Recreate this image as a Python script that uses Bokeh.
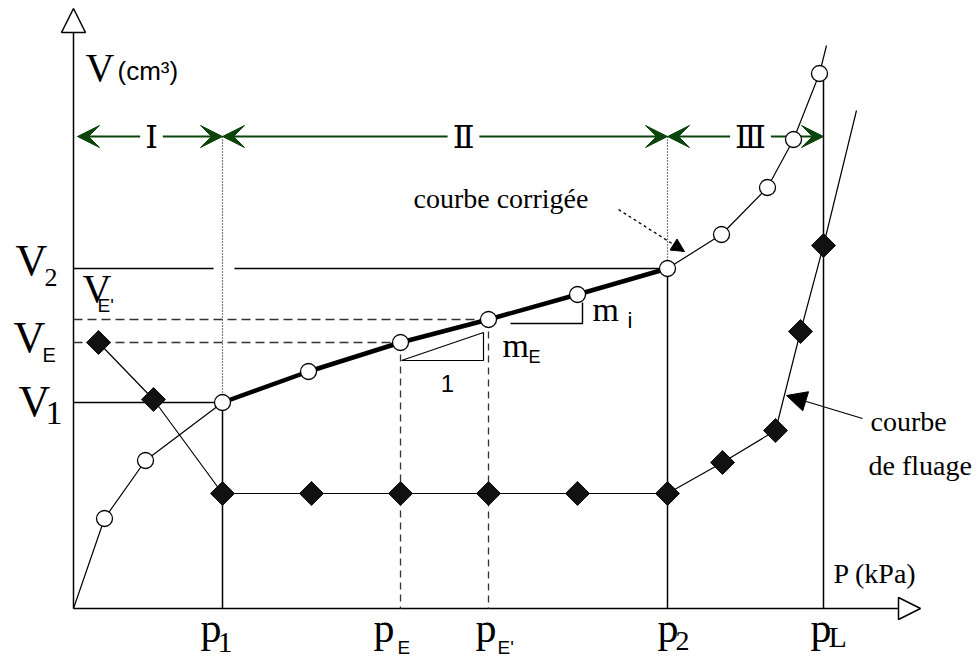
from bokeh.plotting import figure
from bokeh.models import Range1d, Arrow, NormalHead, VeeHead
from bokeh.core.properties import value
from bokeh.embed import file_html
from bokeh.resources import INLINE
import numpy as np

# Characteristic pressures (P axis, schematic kPa) and volumes (V axis, cm3)
p1, pE, pEp, p2, pL = 149, 327, 415, 594, 750
V1, VE, VEp, V2 = 206, 266, 289, 340
V_phase = 472  # level of the phase arrows I / II / III

# Corrected pressuremeter curve (open circles)
corr_P = [0, 31, 72, 149, 235, 327, 415, 504, 594, 648, 694, 720, 746, 753]
corr_V = [0, 90, 148, 206, 237, 266, 289, 314, 340, 374, 421, 469, 535, 563]

# Creep curve (filled diamonds)
creep_P = [25, 80, 149, 238, 327, 415, 504, 594, 649, 702, 727, 750, 783]
creep_V = [266, 209, 115, 115, 115, 115, 115, 115, 146, 178, 277, 363, 498]

# Slope triangles
mE_P = [328, 410, 410, 328]
mE_V = [248, 248, 276, 248]
mi_P = [437, 509, 509]
mi_V = [285, 285, 306]

SERIF = "Liberation Serif"
SANS = "Liberation Sans"
GREEN = "#0b450b"

p = figure(width=977, height=659,
           x_range=Range1d(-73, 904), y_range=Range1d(-51, 608),
           x_axis_type=None, y_axis_type=None,
           toolbar_location=None, output_backend="svg",
           min_border=0, outline_line_color=None,
           background_fill_color="white", border_fill_color="white")


def txt(x, y, s, size, font=SERIF, align="left", baseline="alphabetic", **kw):
    # lift alphabetic labels so the glyph baseline sits on y
    if baseline == "alphabetic":
        y = y + 0.37 * size
    p.text(x=[x], y=[y], text=[s], text_font=value(font),
           text_font_size=f"{size}px", text_align=align,
           text_baseline=baseline, text_color="black", **kw)


def arrow(x0, y0, x1, y1, start=None, end=None, **kw):
    p.add_layout(Arrow(start=start, end=end, x_start=x0, y_start=y0,
                       x_end=x1, y_end=y1, level="underlay", **kw))


# axes with open triangular heads
arrow(0, 0, 0, 600, end=NormalHead(size=24, fill_color="white", line_color="black", line_width=1.5),
      line_width=1.5)
arrow(0, 0, 847, 0, end=NormalHead(size=22, fill_color="white", line_color="black", line_width=1.5),
      line_width=1.5)

# phase arrows
def vee():
    return VeeHead(size=22, fill_color=GREEN, line_color=GREEN)

for a, b in [(4, p1), (p1, p2), (p2, pL)]:
    arrow(a, V_phase, b, V_phase, start=vee(), end=vee(), line_color=GREEN, line_width=2)

# reference lines
p.segment(x0=[p1, p2], y0=[V_phase, V_phase], x1=[p1, p2], y1=[V1, V2],
          line_color="black", line_width=1.2, line_dash="1 2")
p.segment(x0=[p1, p2, pL], y0=[V1, V2, 530], x1=[p1, p2, pL], y1=[0, 0, 0],
          line_color="black", line_width=1.5)
p.segment(x0=[0, p1 + 12, 0], y0=[V2, V2, V1], x1=[p1 - 9, p2, p1], y1=[V2, V2, V1],
          line_color="black", line_width=1.5)
p.segment(x0=[0, 0], y0=[VEp, VE], x1=[pEp, pE], y1=[VEp, VE],
          line_color="#333333", line_width=1.5, line_dash="9 5")
p.segment(x0=[pE, pEp], y0=[VE, VEp], x1=[pE, pEp], y1=[0, 0],
          line_color="#333333", line_width=1.3, line_dash="7 5")

# slope triangles
p.line(mE_P, mE_V, line_color="black", line_width=1.2)
p.line(mi_P, mi_V, line_color="black", line_width=1.4)

# curves
p.line(creep_P, creep_V, line_color="black", line_width=1.2)
p.line(corr_P, corr_V, line_color="black", line_width=1.2)
p.line(corr_P[3:9], corr_V[3:9], line_color="black", line_width=4.5)

p.scatter(creep_P[:12], creep_V[:12], marker="square", angle=np.pi / 4, size=17,
          fill_color="#111111", line_color="#111111")
p.scatter(corr_P[1:13], corr_V[1:13], marker="circle", size=16,
          fill_color="white", line_color="black", line_width=1.3)

# annotation arrows
arrow(545, 399, 611, 357, end=NormalHead(size=13, fill_color="black", line_color="black"),
      line_width=1.3, line_dash="3 3")
arrow(789, 190, 713, 213, end=NormalHead(size=20, fill_color="black", line_color="black"),
      line_width=1.3)

# phase labels
for xc, lab in [(78, "Ⅰ"), (390, "Ⅱ"), (677, "Ⅲ")]:
    txt(xc, V_phase, lab, 32, font="DejaVu Serif", align="center", baseline="middle",
        background_fill_color="white", padding=5)

# axis titles
txt(12, 526, "V", 40)
txt(44, 528, "(cm³)", 26, font=SANS)
txt(760, 25, "P (kPa)", 28)

# volume labels
txt(-58, V2 - 8, "V", 44)
txt(-29, V2 - 19, "2", 26)
txt(9, VEp + 16, "V", 40)
txt(24, VEp + 7, "E'", 19, font=SANS)
txt(-60, VE - 11, "V", 44)
txt(-31, VE - 20, "E", 20, font=SANS)
txt(-55, V1 - 15, "V", 44)
txt(-28, V1 - 23, "1", 34)

# pressure labels
txt(p1 - 22, -35, "p", 42)
txt(p1 - 5, -45, "1", 30)
txt(pE - 27, -35, "p", 42)
txt(pE - 3, -46, "E", 19, font=SANS)
txt(pEp - 13, -35, "p", 42)
txt(pEp + 9, -46, "E'", 19, font=SANS)
txt(p2 - 10, -35, "p", 42)
txt(p2 + 8, -43, "2", 28)
txt(pL - 13, -35, "p", 42)
txt(pL + 5, -39, "L", 30)

# slopes
txt(374, 225, "1", 24, font=SANS, align="center", baseline="middle")
txt(429, 250, "m", 34)
txt(455, 245, "E", 18, font=SANS)
txt(519, 286, "m", 34)
txt(554, 280, "i", 22, font=SANS)

# curve names
txt(340, 400, "courbe corrigée", 28)
txt(797, 177, "courbe", 28)
txt(795, 133, "de fluage", 28)

open("out.html", "w").write(file_html(p, INLINE))
